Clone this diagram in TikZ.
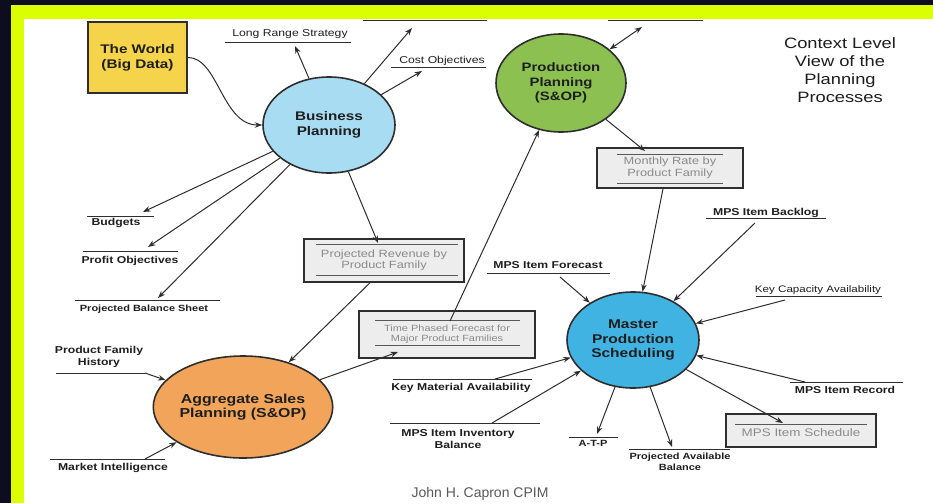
\documentclass[tikz,border=0pt]{standalone}
\usepackage{fontspec}
\setmainfont{Liberation Sans}
\newfontfamily\dgm[FakeStretch=1.22]{Liberation Sans}
\usetikzlibrary{shapes.geometric,arrows.meta}
\definecolor{bgk}{HTML}{0D0D1F}
\definecolor{lime}{HTML}{DBFF00}
\definecolor{worldy}{HTML}{F5D34B}
\definecolor{bpblue}{HTML}{A8DCF2}
\definecolor{ppgreen}{HTML}{8CC152}
\definecolor{agorange}{HTML}{F2A55A}
\definecolor{mpsblue}{HTML}{41B3E3}
\definecolor{boxfill}{HTML}{EDEDED}
\definecolor{lc}{HTML}{2E2E2E}
\definecolor{tc}{HTML}{1E1E1E}
\definecolor{boxtxt}{HTML}{8A8A8A}
\begin{document}
\begin{tikzpicture}[x=1pt,y=-1pt,
  conn/.style={draw=lc, line width=1pt},
  arr/.style={conn, -{Stealth[length=7.5pt,width=5.5pt]}},
  darr/.style={conn, {Stealth[length=7.5pt,width=5.5pt]}-{Stealth[length=7.5pt,width=5.5pt]}},
  proc/.style={ellipse, draw=lc, line width=1.6pt, inner sep=0pt, align=center, text=tc},
  lbl/.style={inner sep=0pt, align=center, font=\dgm\bfseries\fontsize{10}{11.5}\selectfont, text=tc},
  lblr/.style={inner sep=0pt, align=center, font=\dgm\fontsize{10}{11.5}\selectfont, text=tc},
  uline/.style={draw=lc, line width=1pt},
  store/.style={draw=lc, line width=1.5pt, fill=boxfill, inner sep=0pt, align=center, text=boxtxt},
  inline/.style={draw=lc!80, line width=0.8pt}]
\useasboundingbox (0,0) rectangle (933,503);
\fill[bgk] (0,0) rectangle (933,503);
\fill[lime] (11,5) rectangle (933,503);
\fill[white] (24,19) rectangle (933,503);

% processes
\node[draw=lc, line width=1.6pt, fill=worldy, minimum width=99pt, minimum height=71pt,
  align=center, text=tc, font=\dgm\bfseries\fontsize{12.5}{15}\selectfont] (world) at (137.5,57.5) {The World\\(Big Data)};
\node[proc, fill=bpblue, minimum width=132pt, minimum height=96pt,
  font=\dgm\bfseries\fontsize{12.5}{15}\selectfont] (bp) at (329,125) {Business\\Planning};
\node[proc, fill=ppgreen, minimum width=130pt, minimum height=98pt,
  font=\dgm\bfseries\fontsize{12.2}{14.5}\selectfont] (pp) at (561,83) {Production\\Planning\\(S\&OP)};
\node[proc, fill=agorange, minimum width=140pt, minimum height=102pt,
  font=\dgm\bfseries\fontsize{13}{14.5}\selectfont] (ag) at (243,407) {Aggregate Sales\\Planning (S\&OP)};
\node[proc, fill=mpsblue, minimum width=132pt, minimum height=96pt,
  font=\dgm\bfseries\fontsize{12.7}{14.5}\selectfont] (mps) at (633,340) {Master\\Production\\Scheduling};

% stores
\node[store, minimum width=160pt, minimum height=43pt, font=\dgm\fontsize{10.5}{11.5}\selectfont] (prb) at (384,260.5) {Projected Revenue by\\Product Family};
\draw[inline] ([xshift=13pt,yshift=-6pt]prb.north west) -- ([xshift=-7pt,yshift=-6pt]prb.north east);
\draw[inline] ([xshift=13pt,yshift=7pt]prb.south west) -- ([xshift=-7pt,yshift=7pt]prb.south east);

\node[store, minimum width=176pt, minimum height=47pt, font=\dgm\fontsize{9}{10}\selectfont] (tpf) at (447,334.5) {Time Phased Forecast for\\Major Product Families};
\draw[inline] ([xshift=17pt,yshift=-10pt]tpf.north west) -- ([xshift=-16pt,yshift=-10pt]tpf.north east);
\draw[inline] ([xshift=17pt,yshift=13pt]tpf.south west) -- ([xshift=-16pt,yshift=13pt]tpf.south east);

\node[store, minimum width=146pt, minimum height=40pt, font=\dgm\fontsize{10.5}{12}\selectfont] (mrb) at (670,168) {Monthly Rate by\\Product Family};
\draw[inline] ([xshift=21pt,yshift=-7pt]mrb.north west) -- ([xshift=-21pt,yshift=-7pt]mrb.north east);
\draw[inline] ([xshift=21pt,yshift=5pt]mrb.south west) -- ([xshift=-21pt,yshift=5pt]mrb.south east);

\node[store, minimum width=150pt, minimum height=33pt, font=\dgm\fontsize{11}{12}\selectfont, text depth=0pt] (mis) at (801,430.5) {\raisebox{-4pt}{MPS Item Schedule}};
\draw[inline] ([xshift=10pt,yshift=-11pt]mis.north west) -- ([xshift=-10pt,yshift=-11pt]mis.north east);

% label texts and underlines
\node[lblr] (lrs) at (290,34) {Long Range Strategy};
\draw[uline] (225,43) -- (351,43);
\coordinate (lrsc) at (295,46);
\draw[uline] (363,20.5) -- (487,20.5);
\coordinate (cfs) at (412,28);
\node[lblr] (cost) at (442,61) {Cost Objectives};
\draw[uline] (391,67) -- (486,67);
\coordinate (costc) at (422,71);
\draw[uline] (608,20.5) -- (703,20.5);
\coordinate (ppt) at (642,27);

\node[lbl] (bud) at (116,222.5) {Budgets};
\draw[uline] (87,216) -- (154,216);
\coordinate (budc) at (143,212);
\node[lbl] (pro) at (130,260.5) {Profit Objectives};
\draw[uline] (83,251) -- (178,251);
\coordinate (proc) at (148,247);
\node[lbl, font=\dgm\bfseries\fontsize{9}{10}\selectfont] (pbs) at (144,309.5) {Projected Balance Sheet};
\draw[uline] (75,300) -- (220,300);
\coordinate (pbsc) at (158,298);

\node[lbl] (pfh) at (99,357) {Product Family\\History};
\draw[uline] (56,373) -- (145,373);
\coordinate (pfhc) at (145,373);
\node[lbl] (mi) at (113,468) {Market Intelligence};
\draw[uline] (50,459) -- (165,459);
\coordinate (mic) at (145,459);

\node[lbl] (mif) at (548,265) {MPS Item Forecast};
\draw[uline] (487,273) -- (610,273);
\coordinate (mifc) at (560,277);
\node[lbl] (mib) at (766,213) {MPS Item Backlog};
\draw[uline] (706,218) -- (826,218);
\coordinate (mibc) at (755,223);
\node[lblr, font=\dgm\fontsize{9.5}{11}\selectfont] (kca) at (818,290) {Key Capacity Availability};
\draw[uline] (756,296) -- (882,296);
\coordinate (kcac) at (785,300);
\node[lbl] (mir) at (845,390) {MPS Item Record};
\draw[uline] (790,382) -- (903,382);
\coordinate (mirc) at (805,382);
\coordinate (misc) at (783,423);
\node[lbl, font=\dgm\bfseries\fontsize{9}{11}\selectfont] (pab) at (680,461.5) {Projected Available\\Balance};
\draw[uline] (629,449) -- (730,449);
\coordinate (pabc) at (672,447);
\node[lbl, font=\dgm\bfseries\fontsize{9}{10}\selectfont] (atp) at (593,443) {A-T-P};
\draw[uline] (569,437) -- (618,437);
\coordinate (atpc) at (597,434);
\node[lbl] (kma) at (461,388) {Key Material Availability};
\draw[uline] (393,379) -- (532,379);
\coordinate (kmac) at (495,379);
\node[lbl] (miib) at (458,439) {MPS Item Inventory\\Balance};
\draw[uline] (390,423) -- (540,423);
\coordinate (miibc) at (492,423);

% connectors
\draw[arr] (world.east) .. controls (218,57) and (222,125) .. (bp.west);
\draw[arr] (bp) -- (lrsc);
\draw[arr] (bp) -- (cfs);
\draw[arr] (bp) -- (costc);
\draw[arr] (bp) -- (budc);
\draw[arr] (bp) -- (proc);
\draw[arr] (bp) -- (pbsc);
\coordinate (prbt) at (378,243);
\draw[arr] (bp) -- (prbt);
\draw[arr] ([xshift=-14pt]prb.south) -- (ag);
\coordinate (tpfb) at (398,352);
\draw[arr] (ag) -- (tpfb);
\coordinate (tpft) at (450,321);
\draw[arr] (tpft) -- (pp);
\draw[darr] (pp) -- (ppt);
\coordinate (mrbt) at (645,151);
\draw[arr] (pp) -- (mrbt);
\draw[arr] ([xshift=-7pt]mrb.south) -- (mps);
\draw[arr] (pfhc) -- (ag);
\draw[arr] (mic) -- (ag);
\draw[arr] (mifc) -- (mps);
\draw[arr] (mibc) -- (mps);
\draw[arr] (kcac) -- (mps);
\draw[arr] (mirc) -- (mps);
\draw[arr] (mps) -- (misc);
\draw[arr] (mps) -- (pabc);
\draw[arr] (mps) -- (atpc);
\draw[arr] (kmac) -- (mps);
\draw[arr] (miibc) -- (mps);

% title and footer
\node[inner sep=0pt, align=center, font=\dgm\fontsize{15}{18}\selectfont, text=tc] (title) at (840,70) {Context Level\\View of the\\Planning\\Processes};
\node[inner sep=0pt, font=\fontsize{14}{14}\selectfont, text=black!65] (foot) at (480,494) {John H. Capron CPIM};
\end{tikzpicture}
\end{document}
